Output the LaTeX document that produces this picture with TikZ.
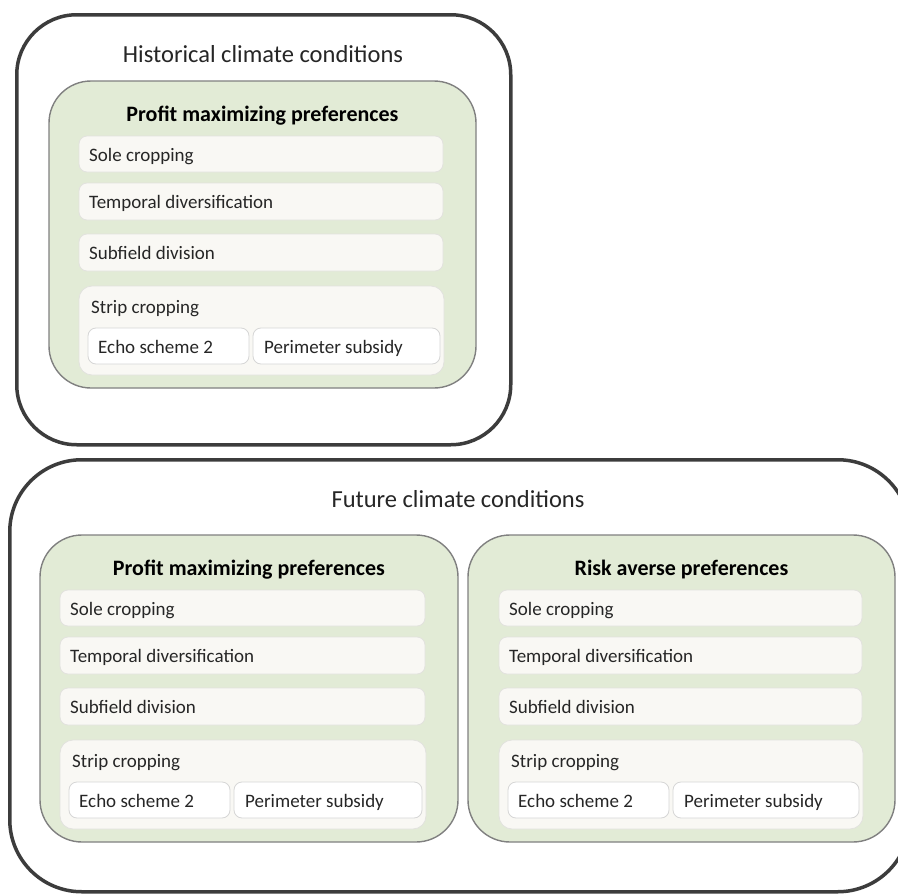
\documentclass[tikz,border=0pt]{standalone}
\usepackage{fontspec}
\setmainfont{Carlito}
\definecolor{outerline}{HTML}{3C3C3C}
\definecolor{greenfill}{HTML}{E2EBD6}
\definecolor{greenline}{HTML}{808080}
\definecolor{itemfill}{HTML}{F9F8F4}
\definecolor{itemline}{HTML}{E2E2DE}
\definecolor{subline}{HTML}{D6D6D6}
\definecolor{textcol}{HTML}{262626}
\tikzset{
  outerbox/.style={draw=outerline, line width=3.5pt, fill=white},
  greenbox/.style={draw=greenline, line width=1.4pt, fill=greenfill, rounded corners=42pt},
  itembox/.style={draw=itemline, line width=0.8pt, fill=itemfill, rounded corners=8pt},
  stripbox/.style={draw=itemline, line width=0.8pt, fill=itemfill, rounded corners=13pt},
  subbox/.style={draw=subline, line width=0.8pt, fill=white, rounded corners=8pt},
  itemtext/.style={text=textcol, inner sep=0pt, anchor=base west, font=\fontsize{19}{23}\selectfont},
  prefhead/.style={text=black, inner sep=0pt, anchor=base, font=\bfseries\fontsize{22}{26}\selectfont},
  climhead/.style={text=textcol, inner sep=0pt, anchor=base, font=\fontsize{24.5}{29}\selectfont},
}
% name, style, x1, y1, x2, y2
\newcommand\mybox[6]{%
  \node[#2, anchor=north west, inner sep=0pt, outer sep=0pt,
        minimum width={((#5)-(#3))*1pt}, minimum height={((#6)-(#4))*1pt}]
        (#1) at ({#3},{#4}) {};}
% prefix, gx1, gy1, gx2, ix1, ix2, title
\newcommand\prefpanel[7]{%
  \mybox{#1g}{greenbox}{#2}{#3}{#4}{(#3)+307}
  \node[prefhead] (#1title) at ({((#2)+(#4))/2},{(#3)+40}) {#7};
  \mybox{#1sole}{itembox}{#5}{(#3)+55}{#6}{(#3)+91}
  \node[itemtext] (#1solet) at ([xshift=10pt,yshift=-7pt]#1sole.west) {Sole cropping};
  \mybox{#1temp}{itembox}{#5}{(#3)+102}{#6}{(#3)+139}
  \node[itemtext] (#1tempt) at ([xshift=10pt,yshift=-7pt]#1temp.west) {Temporal diversification};
  \mybox{#1sub}{itembox}{#5}{(#3)+153}{#6}{(#3)+190}
  \node[itemtext] (#1subt) at ([xshift=10pt,yshift=-7pt]#1sub.west) {Subfield division};
  \mybox{#1strip}{stripbox}{#5}{(#3)+205}{(#6)+1}{(#3)+294}
  \node[itemtext] (#1stript) at ({(#5)+12},{(#3)+232}) {Strip cropping};
  \mybox{#1echo}{subbox}{(#5)+9}{(#3)+247}{(#5)+170}{(#3)+283}
  \node[itemtext] (#1echot) at ([xshift=10pt,yshift=-7pt]#1echo.west) {Echo scheme 2};
  \mybox{#1peri}{subbox}{(#5)+174}{(#3)+247}{(#6)-3}{(#3)+283}
  \node[itemtext] (#1perit) at ([xshift=11pt,yshift=-7pt]#1peri.west) {Perimeter subsidy};
}
\begin{document}
\begin{tikzpicture}[x=1pt,y=-1pt]
  \clip (0,0) rectangle (898,894);
  \fill[white] (0,0) rectangle (898,894);
  % historical climate
  \node[outerbox, rounded corners=60pt, anchor=north west, inner sep=0pt,
        minimum width=494pt, minimum height=430pt] (hist) at (15,13) {};
  \node[climhead] (histtitle) at (263,62) {Historical climate conditions};
  \prefpanel{h}{49}{81}{476}{79}{443}{Profit maximizing preferences}
  % future climate
  \node[outerbox, rounded corners=72pt, anchor=north west, inner sep=0pt,
        minimum width=900pt, minimum height=432pt] (fut) at (8,458) {};
  \node[climhead] (futtitle) at (458,507) {Future climate conditions};
  \prefpanel{p}{40}{535}{458}{60}{425}{Profit maximizing preferences}
  \prefpanel{r}{468}{535}{895}{499}{862}{Risk averse preferences}
\end{tikzpicture}
\end{document}
